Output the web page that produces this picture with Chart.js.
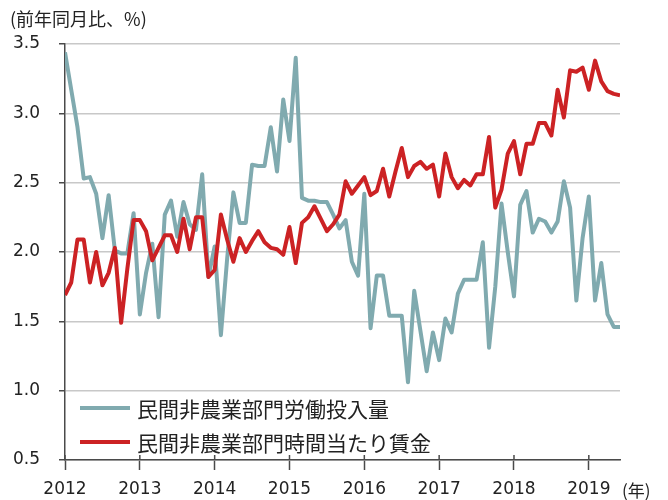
<!DOCTYPE html>
<html>
<head>
<meta charset="utf-8">
<script src="https://cdn.jsdelivr.net/npm/chart.js@4"></script>
<style>
  body { margin: 0; background: #fff; }
</style>
</head>
<body>
<canvas id="graficoSalarios" width="668" height="500"></canvas>
<script>
// ===================================== Datos (mensual, ene 2012 - jun 2019) ==================
var etiquetasAnios = ['2012', '2013', '2014', '2015', '2016', '2017', '2018', '2019'];

var nombreInsumo = '民間非農業部門労働投入量';
var nombreSalario = '民間非農業部門時間当たり賃金';

var insumoTrabajo = [
    3.44, 3.17, 2.90, 2.53, 2.54, 2.42, 2.10, 2.41, 2.01, 1.99, 1.99, 2.28,
    1.55, 1.85, 2.06, 1.53, 2.27, 2.37, 2.11, 2.36, 2.20, 2.16, 2.56, 1.82,
    2.04, 1.40, 1.95, 2.43, 2.21, 2.21, 2.63, 2.62, 2.62, 2.90, 2.58, 3.10,
    2.80, 3.40, 2.39, 2.37, 2.37, 2.36, 2.36, 2.27, 2.17, 2.23, 1.93, 1.83,
    2.42, 1.45, 1.83, 1.83, 1.54, 1.54, 1.54, 1.06, 1.72, 1.43, 1.14, 1.42,
    1.22, 1.52, 1.42, 1.70, 1.80, 1.80, 1.80, 2.07, 1.31, 1.75, 2.35, 2.00,
    1.68, 2.34, 2.44, 2.14, 2.24, 2.22, 2.14, 2.22, 2.51, 2.32, 1.65, 2.10,
    2.40, 1.65, 1.92, 1.55, 1.46, 1.46
];

var salarioHora = [
    1.69, 1.78, 2.09, 2.09, 1.78, 2.00, 1.76, 1.85, 2.03, 1.49, 1.88, 2.23,
    2.23, 2.15, 1.94, 2.03, 2.12, 2.12, 2.00, 2.24, 2.02, 2.25, 2.25, 1.82,
    1.87, 2.27, 2.09, 1.93, 2.10, 2.00, 2.08, 2.15, 2.07, 2.03, 2.02, 1.98,
    2.18, 1.92, 2.21, 2.25, 2.33, 2.24, 2.15, 2.20, 2.27, 2.51, 2.42, 2.48,
    2.54, 2.41, 2.44, 2.60, 2.40, 2.58, 2.75, 2.54, 2.62, 2.65, 2.60, 2.63,
    2.40, 2.71, 2.54, 2.46, 2.52, 2.48, 2.56, 2.56, 2.83, 2.32, 2.45, 2.71,
    2.80, 2.56, 2.78, 2.78, 2.93, 2.93, 2.84, 3.17, 2.97, 3.31, 3.30, 3.33,
    3.17, 3.38, 3.23, 3.16, 3.14, 3.13
];

var colorInsumo = '#80aaaf';
var colorSalario = '#cc2224';
var colorEje = '#4a4a4a';
var fuenteNum = "'DejaVu Sans', 'Noto Sans CJK JP', sans-serif";
var fuenteJp = "'Noto Sans CJK JP', 'DejaVu Sans', sans-serif";


// ===================================== Plugin: titulo, leyenda y unidad =================
var extrasGrafico = {
    id: 'extrasGrafico',
    afterDraw(chart) {
        const c = chart.ctx;
        const area = chart.chartArea;
        const x = chart.scales.x;

        c.save();

        // marcas de los años que cruzan el eje
        c.strokeStyle = colorEje;
        c.lineWidth = 1.5;
        x.ticks.forEach(t => {
            const px = x.getPixelForValue(t.value);
            c.beginPath();
            c.moveTo(px, area.bottom - 5);
            c.lineTo(px, area.bottom);
            c.stroke();
        });

        // titulo del eje y
        c.fillStyle = '#222';
        c.font = "18px " + fuenteJp;
        c.textBaseline = 'middle';
        c.textAlign = 'left';
        c.fillText('(前年同月比、%)', 10, 19);

        // unidad del eje x
        c.font = "17px " + fuenteJp;
        c.fillText('(年)', 622, 491);

        // leyenda
        const items = [
            { texto: nombreInsumo, color: colorInsumo, y: 408 },
            { texto: nombreSalario, color: colorSalario, y: 442 }
        ];
        c.font = "21px " + fuenteJp;
        items.forEach(it => {
            c.strokeStyle = it.color;
            c.lineWidth = 4;
            c.beginPath();
            c.moveTo(80, it.y);
            c.lineTo(130, it.y);
            c.stroke();
            c.fillStyle = '#222';
            c.fillText(it.texto, 137, it.y + 1);
        });

        c.restore();
    }
};


// ===================================== Grafico =====================================
var puntos = arr => arr.map((v, i) => ({ x: i, y: v }));

var chartSalarios = new Chart(document.getElementById('graficoSalarios'), {
    type: 'line',
    data: {
        datasets: [
            {
                label: nombreInsumo,
                data: puntos(insumoTrabajo),
                borderColor: colorInsumo,
                borderWidth: 4,
                pointRadius: 0,
                tension: 0,
                borderJoinStyle: 'round',
                order: 1
            },
            {
                label: nombreSalario,
                data: puntos(salarioHora),
                borderColor: colorSalario,
                borderWidth: 4,
                pointRadius: 0,
                tension: 0,
                borderJoinStyle: 'round',
                order: 0
            }
        ]
    },
    options: {
        responsive: false,
        animation: false,
        layout: { padding: { top: 44, right: 48, left: 0, bottom: 0 } },
        plugins: {
            legend: { display: false },
            tooltip: { enabled: false }
        },
        scales: {
            x: {
                type: 'linear',
                min: 0,
                max: 89,
                afterFit(s) { s.height = 40; },
                ticks: {
                    stepSize: 12,
                    autoSkip: false,
                    maxRotation: 0,
                    padding: 9,
                    color: '#222',
                    font: { family: fuenteNum, size: 17 },
                    callback: v => etiquetasAnios[v / 12]
                },
                grid: {
                    drawOnChartArea: false,
                    tickLength: 10,
                    tickColor: colorEje,
                    tickWidth: 1.5
                },
                border: { color: colorEje, width: 1.5 }
            },
            y: {
                min: 0.5,
                max: 3.5,
                afterFit(s) { s.width = 65; },
                ticks: {
                    stepSize: 0.5,
                    padding: 19,
                    color: '#222',
                    font: { family: fuenteNum, size: 17 },
                    callback: v => v.toFixed(1)
                },
                grid: {
                    color: '#c8c8c8',
                    lineWidth: 1.5,
                    tickLength: 6,
                    tickColor: colorEje,
                    tickWidth: 1.5
                },
                border: { color: colorEje, width: 1.5 }
            }
        }
    },
    plugins: [extrasGrafico]
});
</script>
</body>
</html>
